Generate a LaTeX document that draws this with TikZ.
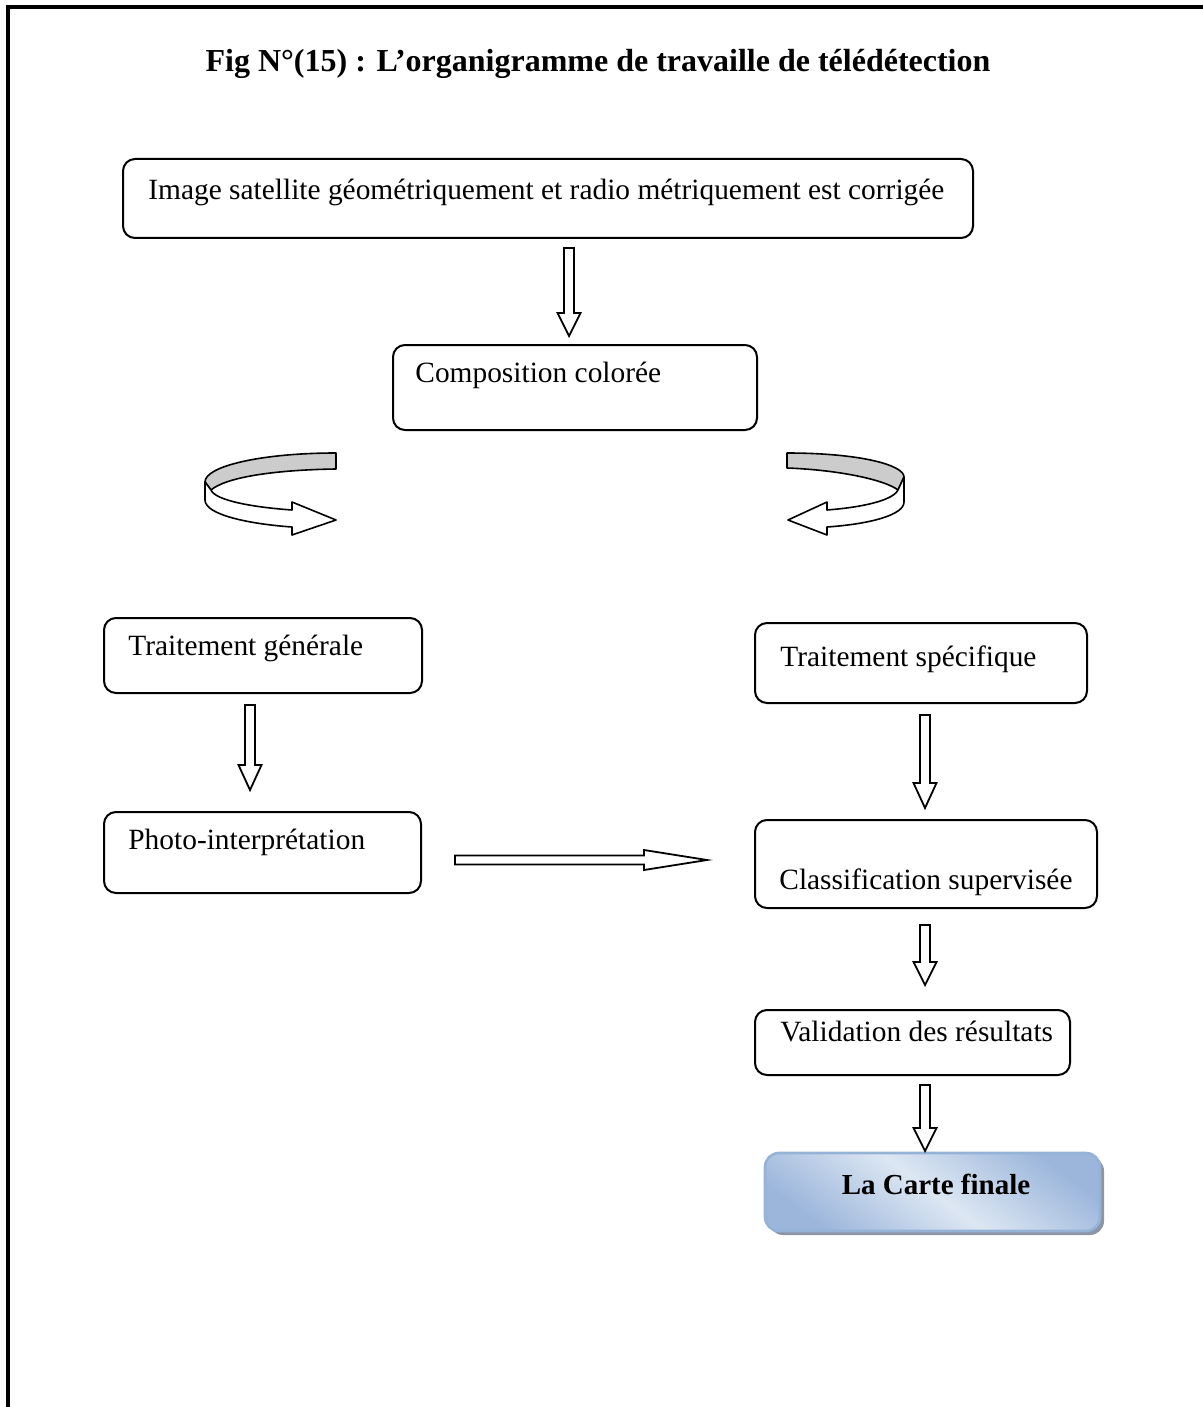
\documentclass[tikz,border=0pt]{standalone}
\usepackage{fontspec}
\setmainfont{Liberation Serif}
\usetikzlibrary{shadows}
\definecolor{ribgray}{RGB}{204,204,204}
\definecolor{cdark}{RGB}{156,182,219}
\definecolor{clight}{RGB}{221,231,243}
\definecolor{cborder}{RGB}{149,179,215}
\definecolor{cshadow}{RGB}{140,150,166}
\newcommand\blkdown[6]{% x, ytop, ytip, halfshaft, halfhead, headlen
  \draw[blk] (#1-#4,#2) -- (#1+#4,#2) -- (#1+#4,#3-#6) -- (#1+#5,#3-#6) -- (#1,#3)
    -- (#1-#5,#3-#6) -- (#1-#4,#3-#6) -- cycle;}
\newcommand\blkright[6]{% y, xstart, xtip, halfshaft, halfhead, headlen
  \draw[blk] (#2,#1-#4) -- (#2,#1+#4) -- (#3-#6,#1+#4) -- (#3-#6,#1+#5) -- (#3,#1)
    -- (#3-#6,#1-#5) -- (#3-#6,#1-#4) -- cycle;}
\begin{document}
\begin{tikzpicture}[x=0.5pt,y=-0.5pt,
  box/.style={draw, line width=1pt, rounded corners=6pt, inner sep=0pt},
  txt/.style={anchor=base west, inner sep=0pt, font=\fontsize{14.7}{18}\selectfont},
  blk/.style={draw, line width=0.9pt, fill=white, line join=miter},
  rib/.style={draw, line width=0.8pt, line join=round}]
\useasboundingbox (0,0) rectangle (1203,1407);
% frame
\draw[line width=2pt] (8,1407) -- (8,7) -- (1203,7);
% title
\node[font=\bfseries\fontsize{16}{19}\selectfont, inner sep=0pt, anchor=base] (title) at (598,72)
  {Fig N°(15) : L’organigramme de travaille de télédétection};
% boxes
\draw[box] (123,159) rectangle (973,238) node[pos=0] (img) {};
\node[txt] (imgt) at (148,200) {Image satellite géométriquement et radio métriquement est corrigée};
\draw[box] (393,345) rectangle (757,430) node[pos=0] (comp) {};
\node[txt] (compt) at (415,382) {Composition colorée};
\draw[box] (104,618) rectangle (422,693) node[pos=0] (gen) {};
\node[txt] (gent) at (128,655) {Traitement générale};
\draw[box] (755,623) rectangle (1087,703) node[pos=0] (spec) {};
\node[txt] (spect) at (780,666) {Traitement spécifique};
\draw[box] (104,812) rectangle (421,893) node[pos=0] (photo) {};
\node[txt] (photot) at (128,849) {Photo-interprétation};
\draw[box] (755,820) rectangle (1097,908) node[pos=0] (class) {};
\node[txt] (classt) at (779,889) {Classification supervisée};
\draw[box] (755,1010) rectangle (1070,1075) node[pos=0] (valid) {};
\node[txt] (validt) at (780,1041) {Validation des résultats};
% final box
\path[draw=cborder, line width=1.3pt, rounded corners=7pt,
  top color=cdark, bottom color=cdark, middle color=clight, shading angle=-37,
  drop shadow={shadow xshift=2pt, shadow yshift=-2pt, fill=cshadow, opacity=1}]
  (765,1153) rectangle (1100,1231);
\node[font=\bfseries\fontsize{14.5}{18}\selectfont, anchor=base, inner sep=0pt] (final) at (936,1194) {La Carte finale};
% block arrows
\blkdown{569}{248}{336}{5}{11.5}{23}
\blkdown{250}{705}{790}{5}{11.5}{25}
\blkdown{925}{715}{808}{5}{11.5}{25}
\blkdown{925}{925}{985}{5}{11.5}{23}
\blkdown{925}{1085}{1151}{5}{11.5}{23}
\blkright{860}{455}{707}{4.5}{10}{63}
% left curved arrow
\draw[rib, fill=ribgray] (336,453) .. controls (262,453) and (205,466) .. (205,482)
  -- (211,490) .. controls (225,478) and (270,470) .. (336,469) -- cycle;
\draw[rib, fill=white] (205,482) -- (205,500) .. controls (205,515) and (250,524) .. (292,527)
  -- (292,535) -- (336,520) -- (292,502) -- (292,510)
  .. controls (250,507) and (215,500) .. (211,490) -- cycle;
% right curved arrow
\draw[rib, fill=ribgray] (787,453) .. controls (860,453) and (904,465) .. (904,477)
  -- (898,490) .. controls (885,480) and (840,470) .. (787,468) -- cycle;
\draw[rib, fill=white] (904,477) -- (904,502) .. controls (904,515) and (870,524) .. (827,527)
  -- (827,535) -- (788,520) -- (827,502) -- (827,510)
  .. controls (865,507) and (893,500) .. (898,490) -- cycle;
\end{tikzpicture}
\end{document}
